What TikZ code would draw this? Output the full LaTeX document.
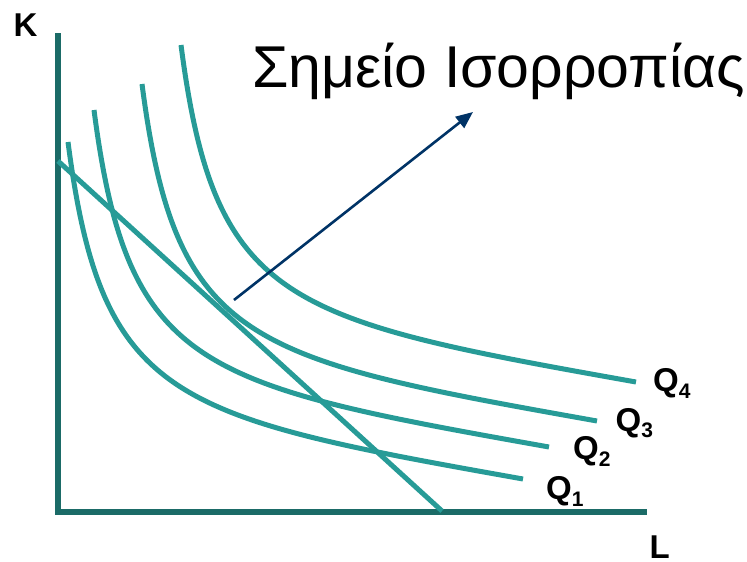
\documentclass[tikz,border=0pt]{standalone}
\usepackage{fontspec}
\setmainfont{Liberation Sans}
\usetikzlibrary{arrows.meta}
\definecolor{axiscol}{HTML}{1B6B67}
\definecolor{curvecol}{HTML}{279B97}
\definecolor{arrowcol}{HTML}{003366}
\newcommand{\isoq}{(68,142) .. controls (101.8,402) and (173,416.7) .. (523,479)}
\newcommand{\qlab}[1]{Q\raisebox{-6.5pt}{\fontsize{21}{21}\selectfont #1}}
\begin{document}
\begin{tikzpicture}[x=1pt,y=-1pt,
  axisline/.style={draw=axiscol,line width=5.5pt,line join=miter},
  curveline/.style={draw=curvecol,line width=5pt},
  arrowline/.style={draw=arrowcol,line width=2.6pt,-{Triangle[length=17pt,width=14pt]}},
  lab/.style={inner sep=0pt,anchor=base west,font=\bfseries\fontsize{33}{33}\selectfont},
  title/.style={inner sep=0pt,anchor=base west,font=\fontsize{59}{59}\selectfont}]
\useasboundingbox (0,0) rectangle (747,562);
% axes
\coordinate (ktop) at (58,33);
\coordinate (origin) at (58,512);
\coordinate (lend) at (647,512);
\draw[axisline] (ktop) -- (origin) -- (lend);
% isoquants
\draw[curveline] \isoq;
\draw[curveline,shift={(26,-32)}] \isoq;
\draw[curveline,shift={(74,-58)}] \isoq;
\draw[curveline,shift={(113,-97)}] \isoq;
% isocost line
\coordinate (cK) at (58,161);
\coordinate (cL) at (442,511);
\draw[curveline] (cK) -- (cL);
% arrow
\coordinate (atail) at (234,300);
\coordinate (ahead) at (473,112);
\draw[arrowline] (atail) -- (ahead);
% labels
\node[title] (ttl) at (252,87) {Σημείο Ισορροπίας};
\node[lab] (lk) at (13.5,36) {K};
\node[lab] (ll) at (649.5,558) {L};
\node[lab] (q4) at (653,391.5) {\qlab{4}};
\node[lab] (q3) at (615.5,431) {\qlab{3}};
\node[lab] (q2) at (573,459.5) {\qlab{2}};
\node[lab] (q1) at (546,499.5) {\qlab{1}};
\end{tikzpicture}
\end{document}
